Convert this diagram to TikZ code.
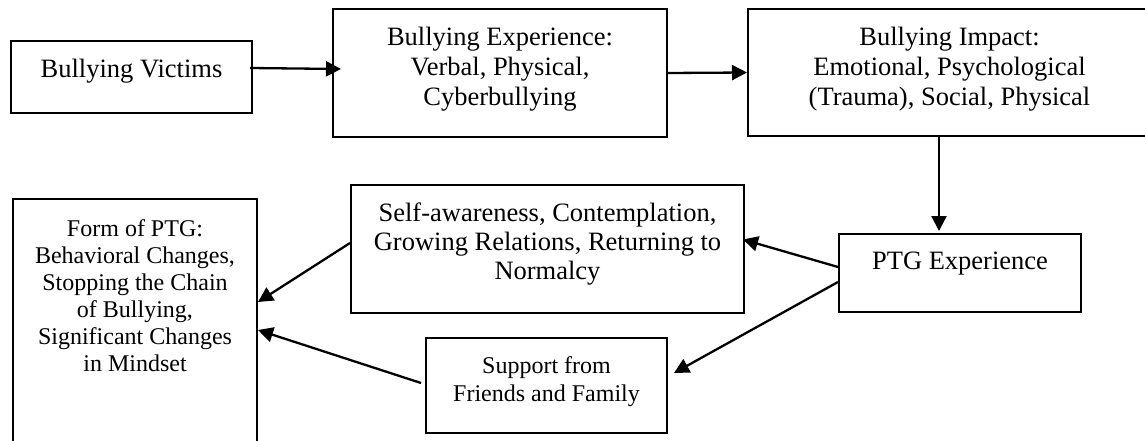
\documentclass[tikz,border=0pt]{standalone}
\usepackage{fontspec}
\setmainfont{Liberation Serif}
\usetikzlibrary{arrows.meta}
\begin{document}
\begin{tikzpicture}[x=1pt,y=-1pt,
  box/.style={draw=black, line width=2pt, rectangle, inner sep=0pt},
  lbl/.style={align=center, inner sep=0pt, text=black},
  big/.style={font=\fontsize{26.5}{30}\selectfont},
  mid/.style={font=\fontsize{26.5}{29}\selectfont},
  small/.style={font=\fontsize{24}{28}\selectfont},
  smaller/.style={font=\fontsize{24}{27}\selectfont},
  arr/.style={draw=black, line width=2.3pt, -{Triangle[length=15pt,width=15pt]}}]
\useasboundingbox (0,0) rectangle (1145,441);
\clip (0,0) rectangle (1145,441);

% boxes
\node[box, minimum width=241pt, minimum height=72pt]  (victims) at (131.5,77) {};
\node[box, minimum width=334pt, minimum height=128pt] (exper)   at (500,73) {};
\node[box, minimum width=403pt, minimum height=127pt] (impact)  at (949.5,72.5) {};
\node[box, minimum width=242pt, minimum height=78pt]  (ptg)     at (960,273) {};
\node[box, minimum width=393pt, minimum height=128pt] (self)    at (547.5,249) {};
\node[box, minimum width=241pt, minimum height=95pt]  (support) at (546.5,385.5) {};
\node[box, minimum width=244pt, minimum height=261pt] (form)    at (135,329.5) {};

% texts
\node[lbl, big] (tvictims) at (131.5,70.9) {Bullying Victims};
\node[lbl, big] (texper) at (500,68.9) {Bullying Experience:\\Verbal, Physical,\\Cyberbullying};
\node[lbl, big] (timpact) at (949.5,69.3) {Bullying Impact:\\Emotional, Psychological\\(Trauma), Social, Physical};
\node[lbl, big] (tptg) at (960,263.9) {PTG Experience};
\node[lbl, mid] (tself) at (547.5,243.9) {Self-awareness, Contemplation,\\Growing Relations, Returning to\\Normalcy};
\node[lbl, small] (tsupport) at (546.5,381.4) {Support from\\Friends and Family};
\node[lbl, smaller] (tform) at (135,295.3) {Form of PTG:\\Behavioral Changes,\\Stopping the Chain\\of Bullying,\\Significant Changes\\in Mindset};

% connectors
\draw[arr] ([xshift=-3pt,yshift=9pt]victims.east) -- ([xshift=9pt,yshift=4pt]exper.west);
\draw[arr] (exper.east) -- (impact.west);
\draw[arr] ([xshift=-10.5pt]impact.south) -- ([xshift=-21pt,yshift=2pt]ptg.north);
\draw[arr] ([yshift=6pt]ptg.west) -- ([xshift=-2pt,yshift=9.5pt]self.east);
\draw[arr] ([yshift=-9pt]ptg.west) -- ([xshift=6pt,yshift=12.5pt]support.east);
\draw[arr] ([yshift=6pt]self.west) -- ([yshift=27.5pt]form.east);
\draw[arr] ([xshift=-4pt,yshift=2.5pt]support.west) -- ([yshift=-0.5pt]form.east);
\end{tikzpicture}
\end{document}
